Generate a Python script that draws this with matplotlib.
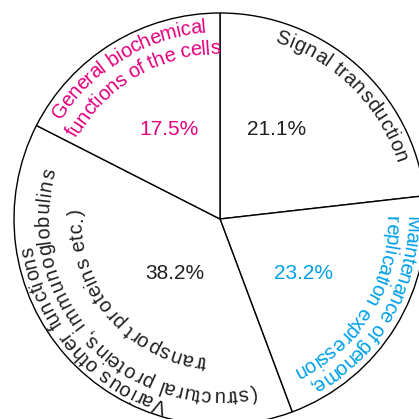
import numpy as np
import matplotlib
matplotlib.use('Agg')
import matplotlib.pyplot as plt
from matplotlib.font_manager import FontProperties, findfont, get_font

# wedge shares as drawn (clockwise from 12 o'clock)
categories = ['Signal transduction',
              'Maintenance of genome, replication expression',
              'Various other functions',
              'General biochemical functions of the cells']
shares = [23.2, 21.1, 38.2, 17.5]
pct_labels = ['21.1%', '23.2%', '38.2%', '17.5%']
label_lines = [
    ['Signal transduction'],
    ['Maintenance of genome,', 'replication expression'],
    ['Various other functions', '(structural proteins, immunoglobulins',
     'transport proteins etc.)'],
    ['General biochemical', 'functions of the cells'],
]

BLACK = '#231f20'
MAGENTA = '#e4007f'
CYAN = '#00a0e9'
colors = [BLACK, CYAN, BLACK, MAGENTA]

DPI = 100
W = 419
CX, CY, R = 220, 200, 206
FAMILY = 'Liberation Sans'
FS = 15
FS_ARC = 14.5

# (baseline radius, start angle, end angle) for every curved line, clockwise
line_layout = [
    [(185, 73.0, 17.5)],
    [(186, 0.8, -62.3), (166, 0.9, -64.4)],
    [(189, -106.0, -172.0), (171, -78.3, -196.6), (138, -95.4, -184.1)],
    [(187, 148.1, 94.3), (165, 150.7, 90.0)],
]
# percentage label positions (radius, angle) from the centre
pct_layout = [(105.7, 57.4), (99.6, -33.5), (71, -129.3), (102.6, 119.8)]


def arc_text(ax, s, r, a0, a1, color, size=FS_ARC):
    font = get_font(findfont(FontProperties(family=FAMILY)))
    font.set_size(size, DPI)
    adv = np.array([font.load_char(ord(ch)).linearHoriAdvance / 65536 for ch in s])
    pos = np.cumsum(adv) - adv / 2
    frac = pos / adv.sum()
    for ch, f in zip(s, frac):
        phi = a0 + (a1 - a0) * f
        a = np.radians(phi)
        ax.text(CX + r * np.cos(a), CY + r * np.sin(a), ch, rotation=phi - 90,
                rotation_mode='anchor', ha='center', va='baseline',
                fontsize=size, family=FAMILY, color=color)


fig = plt.figure(figsize=(W / DPI, W / DPI), dpi=DPI)
ax = fig.add_axes([0, 0, 1, 1])
ax.pie(shares, startangle=90, counterclock=False, center=(CX, CY), radius=R,
       colors=['white'] * 4,
       wedgeprops=dict(edgecolor='black', linewidth=1.0))
ax.set_xlim(0, W)
ax.set_ylim(0, W)
ax.set_aspect('equal')
ax.axis('off')

for lines, lays, col in zip(label_lines, line_layout, colors):
    for txt, (r, a0, a1) in zip(lines, lays):
        arc_text(ax, txt, r, a0, a1, col)

for lab, (r, ang), col in zip(pct_labels, pct_layout, colors):
    a = np.radians(ang)
    ax.text(CX + r * np.cos(a), CY + r * np.sin(a), lab, ha='center', va='center',
            fontsize=FS, family=FAMILY, color=col)

fig.savefig('out.png', dpi=DPI)
